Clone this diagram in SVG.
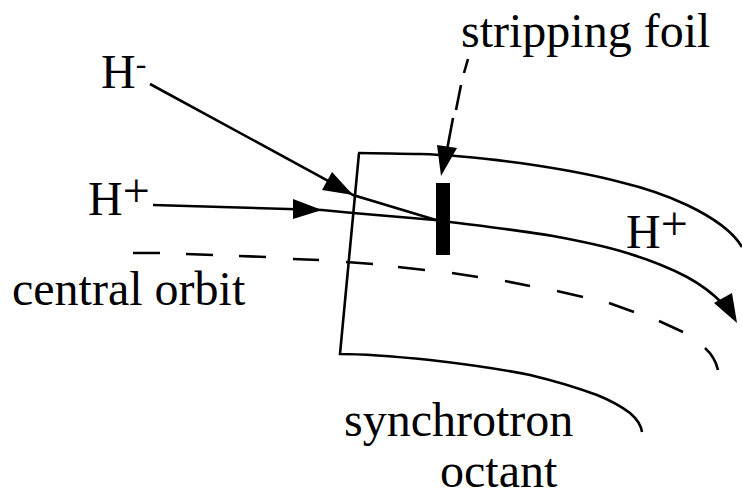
<svg xmlns="http://www.w3.org/2000/svg" width="742" height="496" viewBox="0 0 742 496">
<style>
text{font-family:"Liberation Serif",serif;font-size:48px;fill:#000}
.l{fill:none;stroke:#000;stroke-width:2.6}
.a{fill:#000}
</style>
<rect width="742" height="496" fill="#fff"/>
<g id="connectors">
<path class="l" d="M358 153C380 153 400 154 420 154C455 155 490 159 520 163C555 168 590 174 620 182C645 188 668 196 687 205C710 216 732 230 742 247"/>
<path class="l" d="M359 153L340 354C370 354 400 357 430 360C465 364 500 369 530 375C555 381 578 388 597 395C612 401 622 407 630 413C637 419 641 425 642 432"/>
<path class="l" d="M150 84L345 190L353 195L436 220"/>
<path class="a" d="M353 195L322 190L332 172Z"/>
<path class="l" d="M153 205L322 210L353 213L435 220L450 222C490 227 525 231 553 236C580 241 605 246 627 253C650 260 670 268 687 277C700 284 712 293 722 303"/>
<path class="a" d="M322 210L293 219L293 199Z"/>
<path class="a" d="M737 323L714 303L732 293Z"/>
<path class="l" d="M133 253H160M186 254L213 255M239 256L266 257M293 259L319 260M346 262L373 264M398 267L425 270M452 273L478 277M505 281L530 286M557 291L583 297M609 303L634 312M659 321L683 332M705 348Q715 357 718 370"/>
<path class="l" d="M468 59L464 73M461 85L456 110M453 118L447 150"/>
<path class="a" d="M441 176L437 145L457 148Z"/>
</g>
<g id="foil"><rect x="436" y="183" width="14" height="72" fill="#000"/></g>
<g id="label-stripping-foil"><text x="461" y="47">stripping foil</text></g>
<g id="label-h-minus"><text x="101" y="88">H<tspan font-size="32" dy="-14">-</tspan></text></g>
<g id="label-h-plus-left"><text x="88" y="215">H<tspan dy="-8">+</tspan></text></g>
<g id="label-h-plus-right"><text x="626" y="248">H<tspan dy="-8">+</tspan></text></g>
<g id="label-central-orbit"><text x="12" y="305">central orbit</text></g>
<g id="label-synchrotron-octant"><text x="344" y="436">synchrotron</text><text x="440" y="487">octant</text></g>
</svg>
